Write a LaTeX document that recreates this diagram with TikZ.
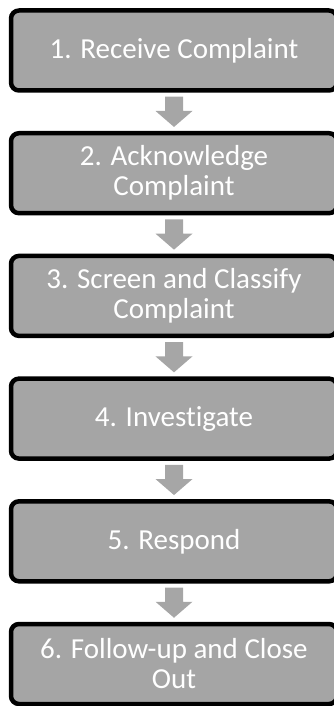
\documentclass[tikz,border=0pt]{standalone}
\usepackage{fontspec}
\setmainfont{Carlito}[Ligatures=NoCommon]
\usetikzlibrary{calc}
\definecolor{boxgray}{RGB}{165,165,165}
\definecolor{arrowgray}{RGB}{166,166,166}
\newcommand\blockarrow[2]{%
  \fill[arrowgray] ($(#1.south)+(-9,4)$) -- ($(#1.south)+(9,4)$)
    -- ($(#2.north)+(9,-20)$) -- ($(#2.north)+(18.5,-20)$)
    -- ($(#2.north)+(0,-4)$) -- ($(#2.north)+(-18.5,-20)$)
    -- ($(#2.north)+(-9,-20)$) -- cycle;}
\begin{document}
\begin{tikzpicture}[x=1pt,y=-1pt,
  stepbox/.style={draw=black, line width=4.5pt, fill=boxgray,
    rounded corners=8pt, minimum width=326pt, minimum height=80pt,
    align=center, text=white, inner sep=0pt,
    font=\fontsize{29}{30}\selectfont}]
\useasboundingbox (0,0) rectangle (333,706);
\node[stepbox] (s1) at (174,50.5) {1. Receive Complaint};
\node[stepbox] (s2) at (174,173.2) {2. Acknowledge\\Complaint};
\node[stepbox] (s3) at (174,295.9) {3. Screen and Classify\\Complaint};
\node[stepbox] (s4) at (174,418.6) {4. Investigate};
\node[stepbox] (s5) at (174,541.3) {5. Respond};
\node[stepbox] (s6) at (174,664) {6. Follow-up and Close\\Out};
\blockarrow{s1}{s2}
\blockarrow{s2}{s3}
\blockarrow{s3}{s4}
\blockarrow{s4}{s5}
\blockarrow{s5}{s6}
\end{tikzpicture}
\end{document}
